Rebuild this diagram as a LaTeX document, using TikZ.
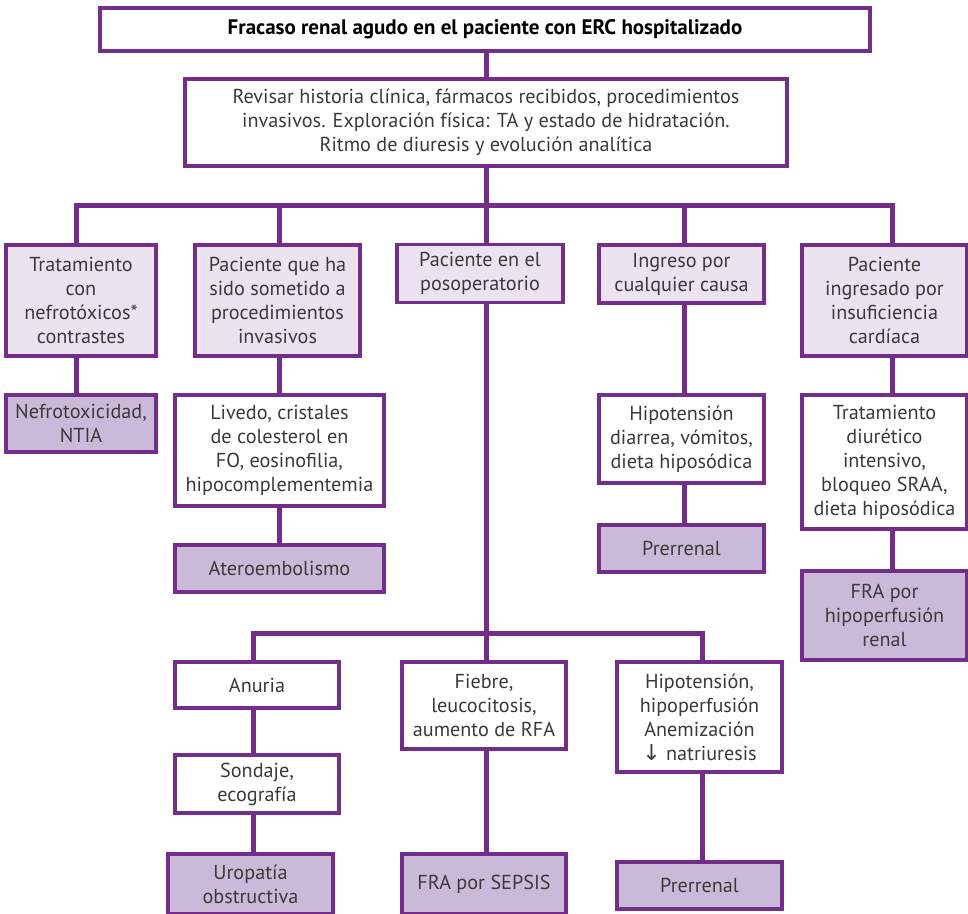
\documentclass[tikz,border=0pt]{standalone}
\usepackage{fontspec}
\setmainfont{PT Sans}
\newfontfamily\arrowfont{DejaVu Sans}
\definecolor{frapurple}{HTML}{752D8C}
\definecolor{lightlav}{HTML}{EBE3F0}
\definecolor{darklav}{HTML}{CBB9D9}
\definecolor{textgray}{HTML}{3A3A3A}
\begin{document}
\begin{tikzpicture}[x=1pt,y=-1pt,
  box/.style={draw=frapurple, line width=3.5pt, fill=white, align=center,
    inner sep=0pt, text=textgray, font=\fontsize{20.2}{24}\selectfont},
  lightbox/.style={box, fill=lightlav},
  darkbox/.style={box, fill=darklav},
  link/.style={draw=frapurple, line width=5pt},
]
\useasboundingbox (0,0) rectangle (968,913);

% title and review box
\node[box, text=black, font=\fontsize{21}{24}\selectfont\bfseries,
  minimum width=770pt, minimum height=43pt] (top) at (485,29.5)
  {Fracaso renal agudo en el paciente con ERC hospitalizado};
\node[box, minimum width=602pt, minimum height=87pt] (rev) at (486,122.5)
  {Revisar historia clínica, fármacos recibidos, procedimientos\\
   invasivos. Exploración física: TA y estado de hidratación.\\
   Ritmo de diuresis y evolución analítica};

% first level situations
\node[lightbox, minimum width=150pt, minimum height=111pt] (b1) at (81,300.5)
  {Tratamiento\\con\\nefrotóxicos*\\contrastes};
\node[lightbox, minimum width=165pt, minimum height=111pt] (b2) at (277.5,300.5)
  {Paciente que ha\\sido sometido a\\procedimientos\\invasivos};
\node[lightbox, minimum width=166pt, minimum height=58pt] (b3) at (480,273.5)
  {Paciente en el\\posoperatorio};
\node[lightbox, minimum width=165pt, minimum height=58pt] (b4) at (681.5,274)
  {Ingreso por\\cualquier causa};
\node[lightbox, minimum width=165pt, minimum height=111pt] (b5) at (884.5,300.5)
  {Paciente\\ingresado por\\insuficiencia\\cardíaca};

% findings and diagnoses
\node[darkbox, minimum width=150pt, minimum height=57pt] (nefro) at (81,423.5)
  {Nefrotoxicidad,\\NTIA};
\node[box, minimum width=209pt, minimum height=111pt] (livedo) at (279.5,450.5)
  {Livedo, cristales\\de colesterol en\\FO, eosinofilia,\\hipocomplementemia};
\node[darkbox, minimum width=209pt, minimum height=47pt] (atero) at (279.5,568.5)
  {Ateroembolismo};
\node[box, minimum width=165pt, minimum height=88pt] (hipoA) at (681.5,439)
  {Hipotensión\\diarrea, vómitos,\\dieta hiposódica};
\node[darkbox, minimum width=165pt, minimum height=47pt] (prerA) at (681.5,548.5)
  {Prerrenal};
\node[box, minimum width=165pt, minimum height=134pt] (trat) at (884.5,462)
  {Tratamiento\\diurético\\intensivo,\\bloqueo SRAA,\\dieta hiposódica};
\node[darkbox, minimum width=165pt, minimum height=89pt] (frahipo) at (884.5,615.5)
  {FRA por\\hipoperfusión\\renal};

% postoperative branch
\node[box, minimum width=164pt, minimum height=46pt] (anuria) at (257,685)
  {Anuria};
\node[box, minimum width=164pt, minimum height=58pt] (sondaje) at (257,784)
  {Sondaje,\\ecografía};
\node[darkbox, minimum width=165pt, minimum height=60pt] (uro) at (250.5,884)
  {Uropatía\\obstructiva};
\node[box, minimum width=164pt, minimum height=87pt] (fiebre) at (484,705.5)
  {Fiebre,\\leucocitosis,\\aumento de RFA};
\node[darkbox, minimum width=164pt, minimum height=60pt] (sepsis) at (484,884)
  {FRA por SEPSIS};
\node[box, minimum width=165pt, minimum height=110pt] (hipoB) at (699.5,717)
  {Hipotensión,\\hipoperfusión\\Anemización\\{\arrowfont\fontsize{22}{24}\selectfont ↓} natriuresis};
\node[darkbox, minimum width=165pt, minimum height=47pt] (prerB) at (699.5,885.5)
  {Prerrenal};

% connectors
\coordinate (barL) at (76,205);
\coordinate (barR) at (892,205);
\coordinate (lowL) at (253,633);
\coordinate (lowR) at (702,633);
\begin{scope}[link]
  \draw (top.south -| rev.north) -- (rev.north);
  \draw (rev.south) -- (rev.south |- barL);
  \draw ([yshift=2.5pt]barL) -- ([yshift=-2.5pt]barL |- b1.north) ;
  \draw (barL) -- (barR);
  \draw ([yshift=2.5pt]barR) -- (barR |- b5.north);
  \draw (279,205) coordinate (j2) -- (j2 |- b2.north);
  \draw (684,205) coordinate (j4) -- (j4 |- b4.north);
  \draw (486,205) coordinate (j3) -- (j3 |- b3.north);
  \draw (barL |- b1.south) -- (barL |- nefro.north);
  \draw (j2 |- b2.south) -- (j2 |- livedo.north);
  \draw (j2 |- livedo.south) -- (j2 |- atero.north);
  \draw (j4 |- b4.south) -- (j4 |- hipoA.north);
  \draw (j4 |- hipoA.south) -- (j4 |- prerA.north);
  \draw (barR |- b5.south) -- (barR |- trat.north);
  \draw (barR |- trat.south) -- (barR |- frahipo.north);
  \draw (j3 |- b3.south) -- (j3 |- lowL);
  \draw ([yshift=2.5pt]lowL) -- (lowL |- anuria.north);
  \draw (lowL) -- (lowR);
  \draw ([yshift=2.5pt]lowR) -- (lowR |- hipoB.north);
  \draw (j3 |- lowL) -- (j3 |- fiebre.north);
  \draw (lowL |- anuria.south) -- (lowL |- sondaje.north);
  \draw (lowL |- sondaje.south) -- (lowL |- uro.north);
  \draw (j3 |- fiebre.south) -- (j3 |- sepsis.north);
  \draw (lowR |- hipoB.south) -- (lowR |- prerB.north);
\end{scope}
\end{tikzpicture}
\end{document}
